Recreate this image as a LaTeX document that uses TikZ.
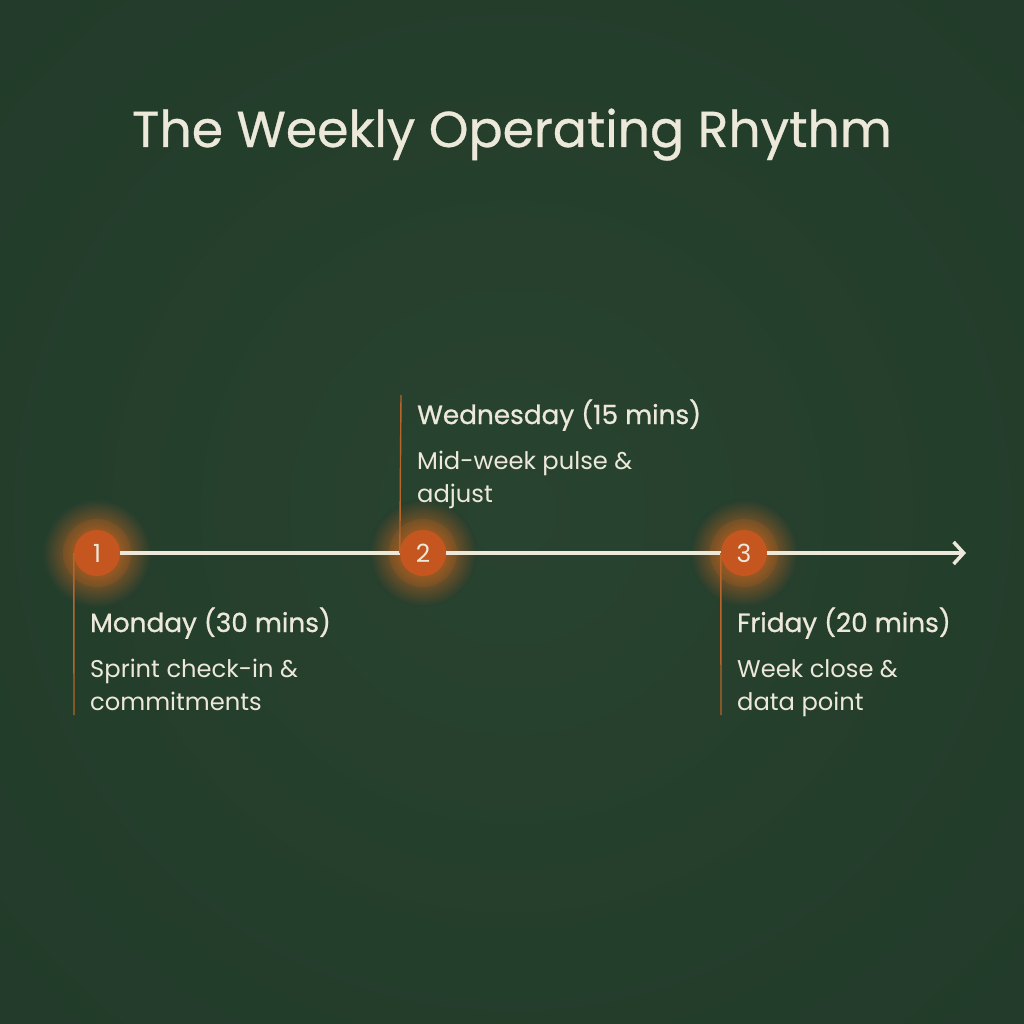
\documentclass[tikz,border=0pt]{standalone}
\usepackage{fontspec}
\setmainfont{Poppins}
\usetikzlibrary{arrows.meta}
\definecolor{bgc}{HTML}{253F2E}
\definecolor{bgin}{HTML}{28432F}
\definecolor{bgout}{HTML}{223B2A}
\definecolor{cream}{HTML}{EDE9DA}
\definecolor{rust}{HTML}{C5561F}
\definecolor{glowc}{HTML}{E06A1E}
\definecolor{guide}{HTML}{B8652A}
\tikzset{
  stepdot/.style={circle, fill=rust, minimum size=46pt, inner sep=0pt, text=cream, font=\fontsize{25}{25}\selectfont},
  headtxt/.style={anchor=base west, text=cream, inner sep=0pt, font=\fontsize{26.3}{26.3}\selectfont\addfontfeatures{FakeBold=0.8}},
  bodytxt/.style={anchor=base west, text=cream, inner sep=0pt, align=left, font=\fontsize{24.2}{33}\selectfont},
  track/.style={line width=3.5pt, draw=cream},
  guideline/.style={line width=1.4pt, draw=guide},
}
\begin{document}
\begin{tikzpicture}[x=1pt,y=-1pt]
\useasboundingbox (0,0) rectangle (1024,1024);
\fill[bgout] (0,0) rectangle (1024,1024);
\shade[inner color=bgin, outer color=bgout] (-200,-200) rectangle (1224,1224);
% title
\node[anchor=base, text=cream, inner sep=0pt, font=\fontsize{50.5}{50.5}\selectfont\addfontfeatures{FakeBold=0.6}] (title) at (512,147) {The Weekly Operating Rhythm};
% glows
\foreach \x in {97,423,744}{
  \shade[inner color=glowc, outer color=bgc, opacity=0.95] (\x,553) circle (54);
  \shade[inner color=glowc, outer color=glowc!50!bgc, opacity=0.5] (\x,553) circle (34);
}
% step dots
\node[stepdot] (c1) at (97,553) {1};
\node[stepdot] (c2) at (423,553) {2};
\node[stepdot] (c3) at (744,553) {3};
\coordinate (end) at (966,553);
\draw[track] (c1) -- (c2);
\draw[track] (c2) -- (c3);
\draw[track, -{Straight Barb[length=10pt, width=22pt, line width=3.5pt]}] (c3) -- (end);
% guide lines
\coordinate (g1) at (74,715);
\coordinate (g2) at (401,395);
\coordinate (g3) at (721,715);
\draw[guideline] (c1.west) -- (g1);
\draw[guideline] (c2.west) -- (g2);
\draw[guideline] (c3.west) -- (g3);
% texts
\node[headtxt] (h1) at (90,632) {Monday (30 mins)};
\node[bodytxt] (b1) at (90,710) {Sprint check-in \&\\commitments};
\node[headtxt] (h2) at (417,424) {Wednesday (15 mins)};
\node[bodytxt] (b2) at (417,502) {Mid-week pulse \&\\adjust};
\node[headtxt] (h3) at (737,632) {Friday (20 mins)};
\node[bodytxt] (b3) at (737,710) {Week close \&\\data point};
\end{tikzpicture}
\end{document}
